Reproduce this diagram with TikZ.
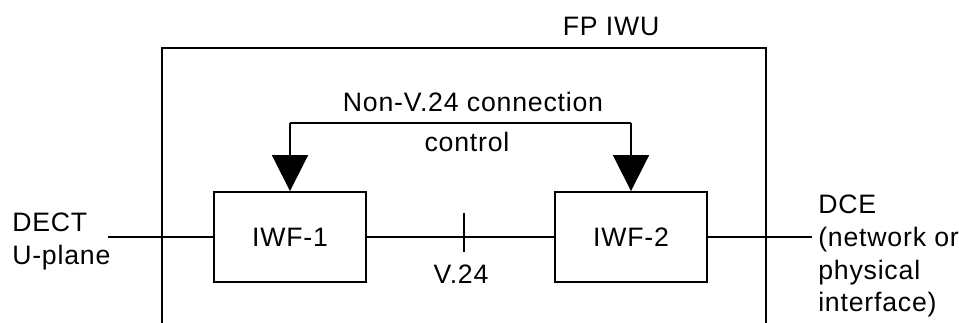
\documentclass[tikz,border=0pt]{standalone}
\usepackage{fontspec}
\setmainfont[LetterSpace=3]{Liberation Sans}
\usetikzlibrary{arrows.meta}
\begin{document}
\begin{tikzpicture}[x=0.75pt,y=-0.75pt,
  every node/.style={font=\fontsize{20}{24.5}\selectfont},
  line/.style={line width=1.4pt},
  fbox/.style={draw,line width=1.4pt,minimum width=114pt,minimum height=67.5pt,inner sep=0pt},
  arr/.style={line width=1.4pt,-{Triangle[length=27pt,width=27pt]}},
  lbl/.style={inner sep=0pt}]
\useasboundingbox (0,0) rectangle (959,323);
% outer FP IWU box (open at bottom)
\coordinate (oBL) at (162,323);
\coordinate (oTL) at (162,48);
\coordinate (oTR) at (766,48);
\coordinate (oBR) at (766,323);
\draw[line] (oBL) -- (oTL) -- (oTR) -- (oBR);
\node[lbl,anchor=base] (fpiwu) at (611,36) {FP IWU};
% function boxes
\node[fbox] (iwf1) at (290,237) {IWF-1};
\node[fbox] (iwf2) at (631,237) {IWF-2};
% control connector
\coordinate (cL) at (290,123);
\coordinate (cR) at (631,123);
\draw[line] (cL) -- (cR);
\draw[arr] (cL) -- (iwf1.north);
\draw[arr] (cR) -- (iwf2.north);
\node[lbl,anchor=base] (ctl1) at (473,112) {Non-V.24 connection};
\node[lbl,anchor=base] (ctl2) at (467,152) {control};
% interfaces
\coordinate (dectEnd) at (108,237);
\coordinate (dceEnd) at (812,237);
\draw[line] (dectEnd) -- (iwf1.west);
\draw[line] (iwf1.east) -- (iwf2.west);
\draw[line] (iwf2.east) -- (dceEnd);
\coordinate (tickT) at (464,213);
\coordinate (tickB) at (464,252);
\draw[line] (tickT) -- (tickB);
\node[lbl,anchor=base] (v24) at (461,284) {V.24};
\node[lbl,anchor=north west,align=left] (dect) at (12,213) {DECT\\U-plane};
\node[lbl,anchor=north west,align=left] (dce) at (818,195) {DCE\\(network or\\physical\\interface)};
\end{tikzpicture}
\end{document}
